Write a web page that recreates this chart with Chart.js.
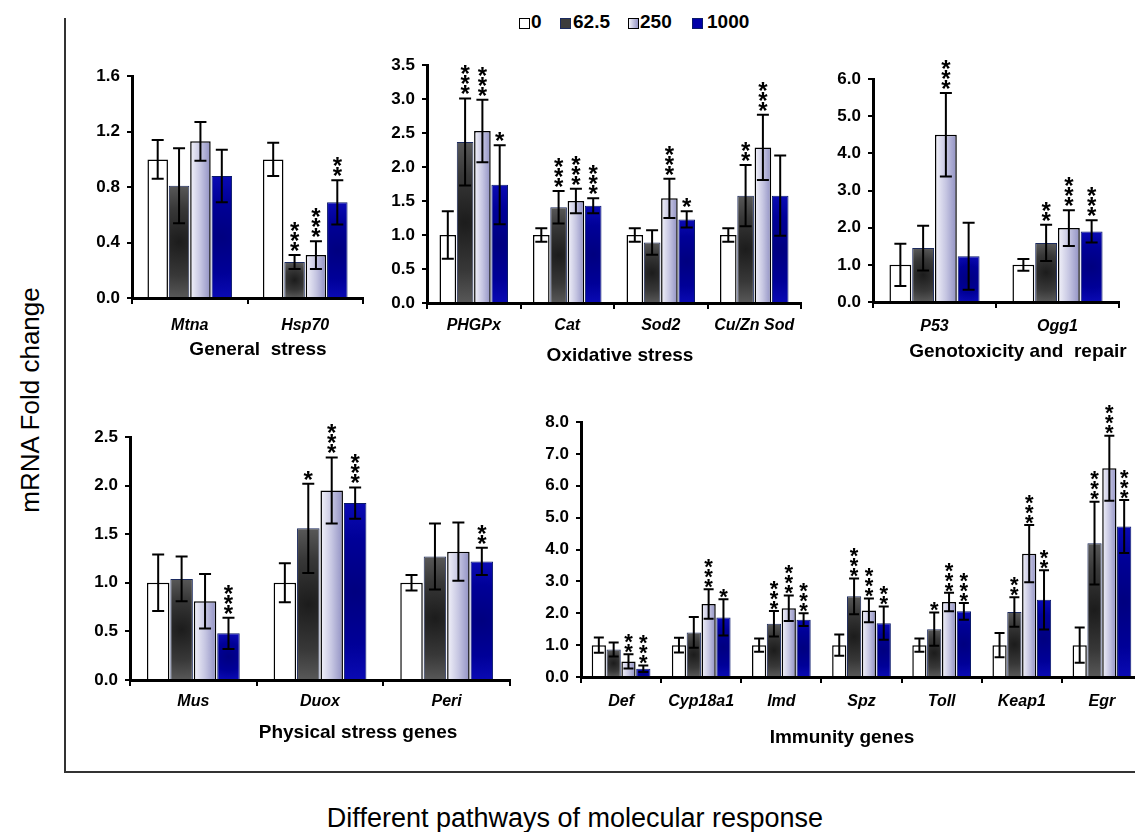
<!DOCTYPE html>
<html>
<head>
<meta charset="utf-8">
<script src="https://cdn.jsdelivr.net/npm/chart.js@4.4.0/dist/chart.umd.min.js"></script>
<style>
  html, body { margin: 0; padding: 0; background: #fff; }
  body { width: 1135px; height: 832px; position: relative; overflow: hidden; font-family: "Liberation Sans", Arial, sans-serif; color: #000; }
  canvas { position: absolute; }
  .frame-v { position: absolute; left: 64px; top: 18px; width: 2px; height: 755px; background: #333; }
  .frame-h { position: absolute; left: 64px; top: 771px; width: 1071px; height: 2px; background: #333; }
  .ytitle { position: absolute; left: 30px; top: 400px; transform: translate(-50%, -50%) rotate(-90deg); font-size: 26px; white-space: nowrap; }
  .xtitle { position: absolute; left: 575px; top: 818px; transform: translate(-50%, -50%); font-size: 27px; white-space: nowrap; }
  .lg-box { position: absolute; top: 18px; width: 9px; height: 9px; border: 1px solid #000; }
  .lg-text { position: absolute; top: 12px; font-weight: bold; font-size: 19px; line-height: 20px; }
</style>
</head>
<body>
<div class="frame-v"></div>
<div class="frame-h"></div>
<div class="ytitle">mRNA Fold change</div>
<div class="xtitle">Different pathways of molecular response</div>

<span class="lg-box" style="left:519px;background:#fff;"></span><span class="lg-text" style="left:531px;">0</span>
<span class="lg-box" style="left:560px;background:#3c3c3c;border-color:#1b2a5e;"></span><span class="lg-text" style="left:573px;">62.5</span>
<span class="lg-box" style="left:628px;background:linear-gradient(90deg,#f2f2f9,#9595c6);"></span><span class="lg-text" style="left:640px;">250</span>
<span class="lg-box" style="left:692px;background:#0000a8;border-color:#0a1a6a;"></span><span class="lg-text" style="left:707px;">1000</span>

<script>
const doses = ["0", "62.5", "250", "1000"];

// General stress
const generalGenes = ["Mtna", "Hsp70"];
const generalMeans = [[1.00, 1.00], [0.81, 0.26], [1.13, 0.31], [0.88, 0.69]];
const generalErrors = [[0.14, 0.12], [0.27, 0.05], [0.14, 0.10], [0.19, 0.16]];
const generalStars = [["", ""], ["", "***"], ["", "***"], ["", "**"]];

// Oxidative stress
const oxidativeGenes = ["PHGPx", "Cat", "Sod2", "Cu/Zn Sod"];
const oxidativeMeans = [[1.00, 1.00, 1.00, 1.00], [2.37, 1.41, 0.89, 1.58], [2.53, 1.50, 1.54, 2.29], [1.74, 1.43, 1.23, 1.58]];
const oxidativeErrors = [[0.35, 0.10, 0.10, 0.10], [0.64, 0.24, 0.18, 0.45], [0.46, 0.18, 0.29, 0.48], [0.58, 0.11, 0.12, 0.59]];
const oxidativeStars = [["", "", "", ""], ["***", "***", "", "**"], ["***", "***", "***", "***"], ["*", "***", "*", ""]];

// Genotoxicity and repair
const genoGenes = ["P53", "Ogg1"];
const genoMeans = [[1.00, 1.00], [1.45, 1.59], [4.50, 1.99], [1.23, 1.90]];
const genoErrors = [[0.57, 0.16], [0.60, 0.49], [1.12, 0.48], [0.90, 0.30]];
const genoStars = [["", ""], ["", "**"], ["***", "***"], ["", "***"]];

// Physical stress genes
const physicalGenes = ["Mus", "Duox", "Peri"];
const physicalMeans = [[1.00, 1.00, 1.00], [1.04, 1.56, 1.27], [0.81, 1.95, 1.32], [0.48, 1.82, 1.22]];
const physicalErrors = [[0.29, 0.20, 0.08], [0.23, 0.46, 0.34], [0.28, 0.34, 0.30], [0.16, 0.16, 0.14]];
const physicalStars = [["", "", ""], ["", "*", ""], ["", "***", ""], ["***", "***", "**"]];

// Immunity genes
const immunityGenes = ["Def", "Cyp18a1", "Imd", "Spz", "Toll", "Keap1", "Egr"];
const immunityMeans = [
  [1.00, 1.00, 1.00, 1.00, 1.00, 1.00, 1.00],
  [0.86, 1.40, 1.67, 2.53, 1.50, 2.04, 4.20],
  [0.49, 2.29, 2.16, 2.09, 2.35, 3.87, 6.55],
  [0.26, 1.87, 1.80, 1.69, 2.06, 2.42, 4.72]
];
const immunityErrors = [
  [0.24, 0.23, 0.21, 0.33, 0.21, 0.38, 0.55],
  [0.22, 0.48, 0.40, 0.56, 0.52, 0.46, 1.30],
  [0.22, 0.46, 0.40, 0.37, 0.29, 0.90, 1.02],
  [0.10, 0.57, 0.20, 0.52, 0.26, 0.93, 0.83]
];
const immunityStars = [
  ["", "", "", "", "", "", ""],
  ["", "", "***", "***", "*", "**", "***"],
  ["**", "***", "***", "***", "***", "***", "***"],
  ["***", "*", "***", "**", "***", "**", "***"]
];

const FONT = "'Liberation Sans', Arial, sans-serif";
const CAT_PCT = 0.74;
const BAR_PCT = 0.96;
const AXIS_W = 50;
const AXIS_H = 36;

const solidColors = ["#ffffff", "#3c3c3c", "#c4c4e0", "#0000a8"];
const borderColors = ["#000000", "#1b2a5e", "#000000", "#0a1a6a"];
const borderWidths = [1.5, 1, 1.5, 1];

function barBox(c) {
  const chart = c.chart;
  const xs = chart.scales.x;
  const ys = chart.scales.y;
  if (!xs || !ys || c.type !== "data" || c.raw == null) return null;
  const n = chart.data.labels.length;
  const catW = (xs.right - xs.left) / n;
  const groupW = catW * CAT_PCT;
  const slot = groupW / doses.length;
  const cx = xs.getPixelForValue(c.dataIndex) - groupW / 2 + (c.datasetIndex + 0.5) * slot;
  const w = slot * BAR_PCT;
  const box = { cx, left: cx - w / 2, right: cx + w / 2, w, top: ys.getPixelForValue(c.raw), base: ys.getPixelForValue(0) };
  const ok = [box.cx, box.w, box.top, box.base].every((v) => Number.isFinite(v)) && box.w > 0;
  return ok ? box : null;
}

function barFill(k) {
  return (c) => {
    if (k === 0) return "#ffffff";
    const box = barBox(c);
    if (!box) return solidColors[k];
    const g = c.chart.ctx;
    if (k === 2) {
      const lin = g.createLinearGradient(box.left, 0, box.right, 0);
      lin.addColorStop(0, "#f3f3fa");
      lin.addColorStop(0.5, "#c6c6e2");
      lin.addColorStop(1, "#9090c3");
      return lin;
    }
    const cy = (box.top + box.base) / 2;
    const r = Math.max((box.base - box.top) / 2, box.w / 2, 2);
    const rad = g.createRadialGradient(box.cx, cy, 0, box.cx, cy, r);
    if (k === 1) {
      rad.addColorStop(0, "#1c1c1c");
      rad.addColorStop(0.6, "#383838");
      rad.addColorStop(1, "#585858");
    } else {
      rad.addColorStop(0, "#000080");
      rad.addColorStop(0.6, "#000098");
      rad.addColorStop(1, "#0a0ab4");
    }
    return rad;
  };
}

const errorStars = {
  id: "errorStars",
  afterDatasetsDraw(chart, args, opts) {
    const ctx = chart.ctx;
    const ys = chart.scales.y;
    ctx.save();
    chart.data.datasets.forEach((ds, di) => {
      const meta = chart.getDatasetMeta(di);
      meta.data.forEach((bar, i) => {
        const v = ds.data[i];
        const e = ds.errors[i];
        const yTop = ys.getPixelForValue(v + e);
        const yBot = ys.getPixelForValue(Math.max(v - e, 0));
        ctx.strokeStyle = "#000";
        ctx.lineWidth = 2;
        ctx.beginPath();
        ctx.moveTo(bar.x, yTop);
        ctx.lineTo(bar.x, yBot);
        ctx.moveTo(bar.x - opts.cap, yTop);
        ctx.lineTo(bar.x + opts.cap, yTop);
        ctx.moveTo(bar.x - opts.cap, yBot);
        ctx.lineTo(bar.x + opts.cap, yBot);
        ctx.stroke();
        const s = ds.stars[i] || "";
        ctx.fillStyle = "#000";
        ctx.font = "bold " + opts.starSize + "px " + FONT;
        ctx.textAlign = "center";
        ctx.textBaseline = "alphabetic";
        for (let k = 0; k < s.length; k++) {
          const cy = yTop - opts.gap - k * opts.step;
          ctx.fillText("*", bar.x, cy + 0.58 * opts.starSize);
        }
      });
    });
    ctx.restore();
  }
};

const panelTitle = {
  id: "panelTitle",
  afterDraw(chart, args, opts) {
    const ctx = chart.ctx;
    ctx.save();
    ctx.font = "bold 19px " + FONT;
    ctx.fillStyle = "#000";
    ctx.textAlign = "center";
    ctx.textBaseline = "middle";
    ctx.fillText(opts.text, opts.x, opts.y);
    ctx.restore();
  }
};

const panels = [
  { labels: generalGenes, means: generalMeans, errors: generalErrors, stars: generalStars,
    max: 1.6, step: 0.4, area: { l: 132, t: 75, r: 363, b: 298 }, padTop: 16, padRight: 10, padBottom: 50, labelPad: 12,
    title: "General  stress", tx: 258, ty: 350, starSize: 24, gap: 10, cap: 6 },
  { labels: oxidativeGenes, means: oxidativeMeans, errors: oxidativeErrors, stars: oxidativeStars,
    max: 3.5, step: 0.5, area: { l: 427, t: 64, r: 801, b: 303 }, padTop: 16, padRight: 10, padBottom: 45, labelPad: 7,
    title: "Oxidative stress", tx: 620, ty: 356, starSize: 24, gap: 10, cap: 6 },
  { labels: genoGenes, means: genoMeans, errors: genoErrors, stars: genoStars,
    max: 6, step: 1, area: { l: 873, t: 79, r: 1119, b: 302 }, padTop: 34, padRight: 20, padBottom: 45, labelPad: 9,
    title: "Genotoxicity and  repair", tx: 1018, ty: 352, starSize: 24, gap: 10, cap: 6 },
  { labels: physicalGenes, means: physicalMeans, errors: physicalErrors, stars: physicalStars,
    max: 2.5, step: 0.5, area: { l: 130, t: 437, r: 510, b: 680 }, padTop: 28, padRight: 10, padBottom: 45, labelPad: 6,
    title: "Physical stress genes", tx: 358, ty: 733, starSize: 24, gap: 10, cap: 6 },
  { labels: immunityGenes, means: immunityMeans, errors: immunityErrors, stars: immunityStars,
    max: 8, step: 1, area: { l: 581, t: 422, r: 1142, b: 677 }, padTop: 36, padRight: 10, padBottom: 50, labelPad: 9,
    title: "Immunity genes", tx: 842, ty: 738, starSize: 22, gap: 8, cap: 5 }
];

panels.forEach((p) => {
  const a = p.area;
  const left = a.l - AXIS_W;
  const top = a.t - p.padTop;
  const width = a.r - a.l + AXIS_W + p.padRight;
  const height = p.padTop + (a.b - a.t) + AXIS_H + p.padBottom;

  const canvas = document.createElement("canvas");
  canvas.width = width;
  canvas.height = height;
  canvas.style.left = left + "px";
  canvas.style.top = top + "px";
  canvas.style.width = width + "px";
  canvas.style.height = height + "px";
  document.body.appendChild(canvas);

  new Chart(canvas.getContext("2d"), {
    type: "bar",
    data: {
      labels: p.labels,
      datasets: doses.map((d, k) => ({
        label: d,
        data: p.means[k],
        errors: p.errors[k],
        stars: p.stars[k],
        backgroundColor: barFill(k),
        borderColor: borderColors[k],
        borderWidth: borderWidths[k],
        barPercentage: BAR_PCT,
        categoryPercentage: CAT_PCT
      }))
    },
    options: {
      responsive: false,
      animation: false,
      devicePixelRatio: 1,
      layout: { padding: { top: p.padTop, right: p.padRight, bottom: p.padBottom, left: 0 } },
      plugins: {
        legend: { display: false },
        tooltip: { enabled: false },
        errorStars: { starSize: p.starSize, gap: p.gap, step: 10, cap: p.cap },
        panelTitle: { text: p.title, x: p.tx - left, y: p.ty - top }
      },
      scales: {
        x: {
          grid: { display: true, drawOnChartArea: false, offset: true, tickLength: 6, lineWidth: 2, color: "#000" },
          border: { display: true, width: 3, color: "#000" },
          ticks: {
            color: "#000", padding: p.labelPad, autoSkip: false, maxRotation: 0,
            font: { family: FONT, size: 16, weight: "bold", style: "italic" }
          },
          afterFit: (s) => { s.height = AXIS_H; }
        },
        y: {
          min: 0,
          max: p.max,
          grid: { display: true, drawOnChartArea: false, tickLength: 5, lineWidth: 2, color: "#000" },
          border: { display: true, width: 3, color: "#000" },
          ticks: {
            stepSize: p.step, color: "#000", padding: 7,
            font: { family: FONT, size: 17, weight: "bold" },
            callback: (v) => Number(v).toFixed(1)
          },
          afterFit: (s) => { s.width = AXIS_W; }
        }
      }
    },
    plugins: [errorStars, panelTitle]
  });
});
</script>
</body>
</html>
